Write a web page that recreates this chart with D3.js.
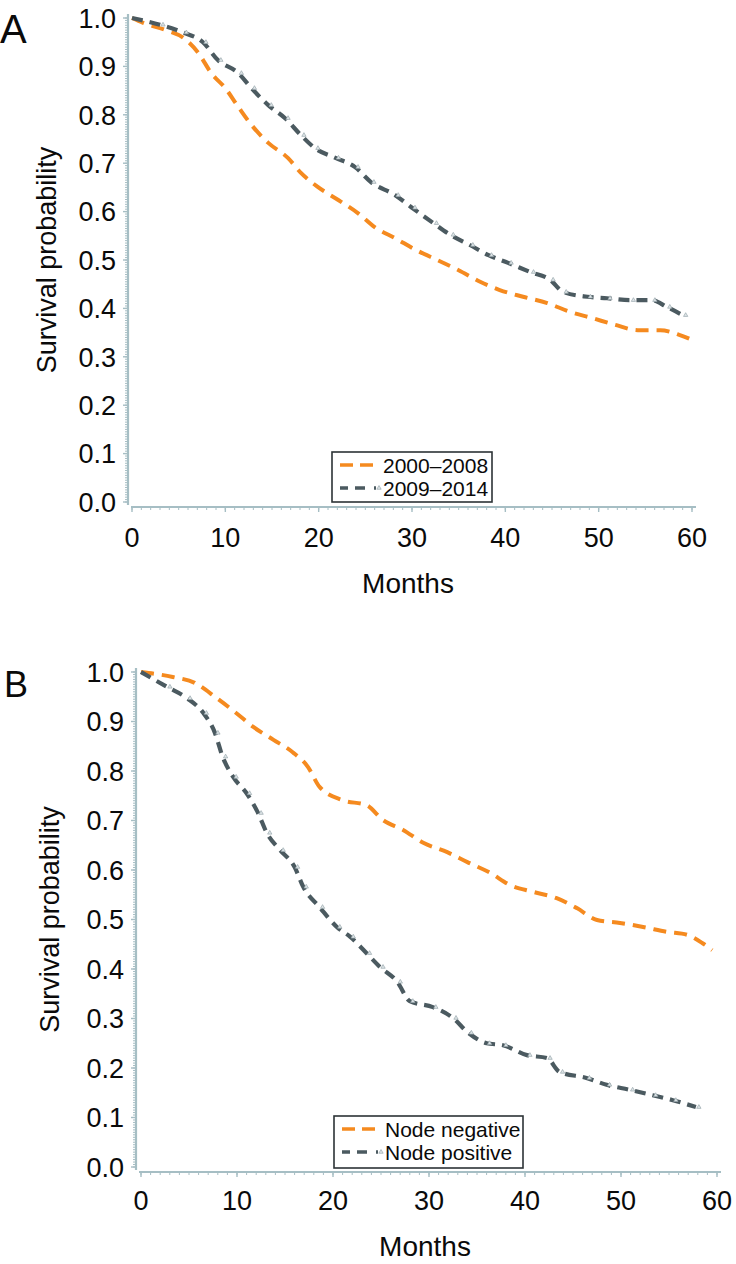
<!DOCTYPE html>
<html><head><meta charset="utf-8">
<script src="https://cdn.jsdelivr.net/npm/d3@7"></script>
<style>
html,body{margin:0;padding:0;background:#fff;}
svg{display:block;}
text{font-family:"Liberation Sans",Arial,Helvetica,sans-serif;fill:#0a0a0a;}
</style></head>
<body>
<svg id="chart" width="736" height="1264"></svg>
<script>
// ---------- DATA ----------
const xTicks = [0, 10, 20, 30, 40, 50, 60];
const yTicks = [0.0, 0.1, 0.2, 0.3, 0.4, 0.5, 0.6, 0.7, 0.8, 0.9, 1.0];

const seriesNamesA = ["2000–2008", "2009–2014"];
const monthsA1 = [0,1.2,3.6,5.5,7.1,8.5,10,11.4,12.8,14.6,16.7,18.1,19.9,22.1,24.2,26,28.2,30.5,32.7,35,37.3,39.4,41.9,44.5,46.9,49.3,51.8,54.2,56.6,58.7,60];
const survA1  = [1,0.99,0.975,0.959,0.928,0.886,0.855,0.816,0.779,0.742,0.711,0.68,0.651,0.624,0.597,0.568,0.545,0.52,0.5,0.479,0.455,0.438,0.424,0.411,0.393,0.38,0.366,0.355,0.355,0.345,0.335];
const monthsA2 = [0,3,5.5,7.6,9.2,11.4,12.8,14.6,16.4,18.1,19.6,21.8,23.9,25.6,28.2,30,32.3,34.1,36.2,38.2,40.3,42.7,44.8,46.2,48.8,50.9,53.4,55.7,57.3,59];
const survA2  = [1,0.986,0.97,0.95,0.913,0.886,0.855,0.82,0.793,0.758,0.731,0.711,0.692,0.661,0.634,0.608,0.576,0.552,0.531,0.51,0.494,0.475,0.459,0.434,0.424,0.421,0.417,0.417,0.403,0.386];

const seriesNamesB = ["Node negative", "Node positive"];
const monthsB1 = [0,3.3,5.6,7.9,9.8,11.7,13.8,15.8,17.4,18.6,21,23.5,25.2,27.3,29.4,31.9,34,36.4,38.4,40.8,43.3,45.4,47.5,49.9,52.3,54.8,56.9,58.5,59.5];
const survB1  = [1,0.99,0.978,0.947,0.919,0.889,0.863,0.838,0.808,0.768,0.741,0.731,0.701,0.681,0.655,0.636,0.616,0.594,0.57,0.556,0.543,0.523,0.499,0.493,0.485,0.475,0.469,0.452,0.438];
const monthsB2 = [0,2.7,4.8,6.5,7.7,8.5,9.6,11,12.2,13.1,14.5,16,16.9,18.6,20.4,21.8,23.5,24.9,26.7,28,30.4,32.5,34.1,36,37.7,40.2,42.3,43.6,46.4,48.5,50.9,53.3,55.4,57.8];
const survB2  = [1,0.97,0.947,0.917,0.877,0.829,0.788,0.755,0.715,0.675,0.64,0.606,0.566,0.525,0.485,0.465,0.432,0.404,0.374,0.335,0.323,0.301,0.271,0.25,0.246,0.226,0.22,0.192,0.18,0.166,0.156,0.145,0.135,0.121];

const panelLetters = ["A", "B"];
const xTitle = "Months";
const yTitle = "Survival probability";

// ---------- STYLE / LAYOUT ----------
const ORANGE = "#f58a1f";
const GREY = "#4b5a60";
const AXIS = "#a6bec4";

const panels = [
  {letter: panelLetters[0], names: seriesNamesA,
   s1: monthsA1.map((m,i)=>({m, s: survA1[i]})), s2: monthsA2.map((m,i)=>({m, s: survA2[i]})),
   x0: 132, x1: 692, yTop: 18, yBot: 502, yAxisX: 128, xAxisY: 507, axisTop: 14, axisRight: 696,
   letterX: 0, letterY: 43, letterSize: 40, yTitleX: 56,
   legend: {x: 332, y: 452, w: 160, h: 50}, xTickY: 547, xTitleY: 593},
  {letter: panelLetters[1], names: seriesNamesB,
   s1: monthsB1.map((m,i)=>({m, s: survB1[i]})), s2: monthsB2.map((m,i)=>({m, s: survB2[i]})),
   x0: 141, x1: 717, yTop: 672, yBot: 1167, yAxisX: 136, xAxisY: 1172, axisTop: 668, axisRight: 721,
   letterX: 4, letterY: 697, letterSize: 36, yTitleX: 59,
   legend: {x: 334, y: 1116, w: 189, h: 52}, xTickY: 1210, xTitleY: 1256}
];

const svg = d3.select("#chart");

panels.forEach(p => {
  const g = svg.append("g");
  const x = d3.scaleLinear().domain([0, 60]).range([p.x0, p.x1]);
  const y = d3.scaleLinear().domain([0, 1]).range([p.yBot, p.yTop]);

  // y axis line + ticks
  g.append("line").attr("x1", p.yAxisX).attr("x2", p.yAxisX).attr("y1", p.axisTop).attr("y2", p.xAxisY - 2)
    .attr("stroke", AXIS).attr("stroke-width", 2.2);
  const yMinor = d3.range(0, 1.0001, 0.005);
  g.selectAll(".ymin").data(yMinor).join("line")
    .attr("x1", p.yAxisX - 3).attr("x2", p.yAxisX)
    .attr("y1", d => y(d)).attr("y2", d => y(d))
    .attr("stroke", AXIS).attr("stroke-width", 1);
  g.selectAll(".ymaj").data(yTicks).join("line")
    .attr("x1", p.yAxisX - 5).attr("x2", p.yAxisX)
    .attr("y1", d => y(d)).attr("y2", d => y(d))
    .attr("stroke", AXIS).attr("stroke-width", 1.4);
  g.selectAll(".ylab").data(yTicks).join("text")
    .attr("x", p.yAxisX - 12).attr("y", d => y(d)).attr("dy", "0.36em")
    .attr("text-anchor", "end").attr("font-size", 27)
    .text(d => d3.format(".1f")(d));

  // x axis line + ticks
  g.append("line").attr("x1", p.yAxisX + 3).attr("x2", p.axisRight).attr("y1", p.xAxisY).attr("y2", p.xAxisY)
    .attr("stroke", AXIS).attr("stroke-width", 2.2);
  const xMinor = d3.range(0, 61, 1);
  g.selectAll(".xmin").data(xMinor).join("line")
    .attr("x1", d => x(d)).attr("x2", d => x(d))
    .attr("y1", p.xAxisY).attr("y2", p.xAxisY + 3)
    .attr("stroke", AXIS).attr("stroke-width", 1);
  g.selectAll(".xmaj").data(xTicks).join("line")
    .attr("x1", d => x(d)).attr("x2", d => x(d))
    .attr("y1", p.xAxisY).attr("y2", p.xAxisY + 5)
    .attr("stroke", AXIS).attr("stroke-width", 1.4);
  g.selectAll(".xlab").data(xTicks).join("text")
    .attr("x", d => x(d)).attr("y", p.xTickY)
    .attr("text-anchor", "middle").attr("font-size", 27)
    .text(d => d);

  // titles
  g.append("text").attr("x", (p.x0 + p.x1) / 2 - 4).attr("y", p.xTitleY)
    .attr("text-anchor", "middle").attr("font-size", 28).text(xTitle);
  g.append("text")
    .attr("transform", `translate(${p.yTitleX},${(p.yTop + p.yBot) / 2}) rotate(-90)`)
    .attr("text-anchor", "middle").attr("font-size", 27).text(yTitle);
  g.append("text").attr("x", p.letterX).attr("y", p.letterY)
    .attr("font-size", p.letterSize).text(p.letter);

  // curves
  const line = d3.line().x(d => x(d.m)).y(d => y(d.s)).curve(d3.curveMonotoneX);
  g.append("path").datum(p.s1).attr("d", line)
    .attr("fill", "none").attr("stroke", ORANGE).attr("stroke-width", 4)
    .attr("stroke-dasharray", "13,8");
  g.append("path").datum(p.s2).attr("d", line)
    .attr("fill", "none").attr("stroke", GREY).attr("stroke-width", 4.2)
    .attr("stroke-dasharray", "11,7");
  const tri = d3.symbol().type(d3.symbolTriangle).size(8);
  g.selectAll(".cens").data(p.s2.slice(1)).join("path")
    .attr("d", tri)
    .attr("transform", d => `translate(${x(d.m) + 3},${y(d.s)})`)
    .attr("fill", "#dfe6e8").attr("stroke", "#9aa8ad").attr("stroke-width", 0.7);

  // legend
  const L = p.legend;
  const lg = g.append("g");
  lg.append("rect").attr("x", L.x).attr("y", L.y).attr("width", L.w).attr("height", L.h)
    .attr("fill", "#fff").attr("stroke", "#2c3336").attr("stroke-width", 1.6);
  const rowY = [L.y + 13, L.y + 36];
  lg.append("line").attr("x1", L.x + 8).attr("x2", L.x + 44).attr("y1", rowY[0]).attr("y2", rowY[0])
    .attr("stroke", ORANGE).attr("stroke-width", 3.5).attr("stroke-dasharray", "13,7");
  lg.append("line").attr("x1", L.x + 8).attr("x2", L.x + 44).attr("y1", rowY[1]).attr("y2", rowY[1])
    .attr("stroke", GREY).attr("stroke-width", 3.5).attr("stroke-dasharray", "8,7,10,9");
  lg.append("path").attr("d", tri).attr("transform", `translate(${L.x + 47},${rowY[1]})`)
    .attr("fill", "#dfe6e8").attr("stroke", "#9aa8ad").attr("stroke-width", 0.7);
  p.names.forEach((n, i) => {
    lg.append("text").attr("x", L.x + 51).attr("y", rowY[i]).attr("dy", "0.36em")
      .attr("font-size", 21).text(n);
  });
});
</script>
</body></html>
